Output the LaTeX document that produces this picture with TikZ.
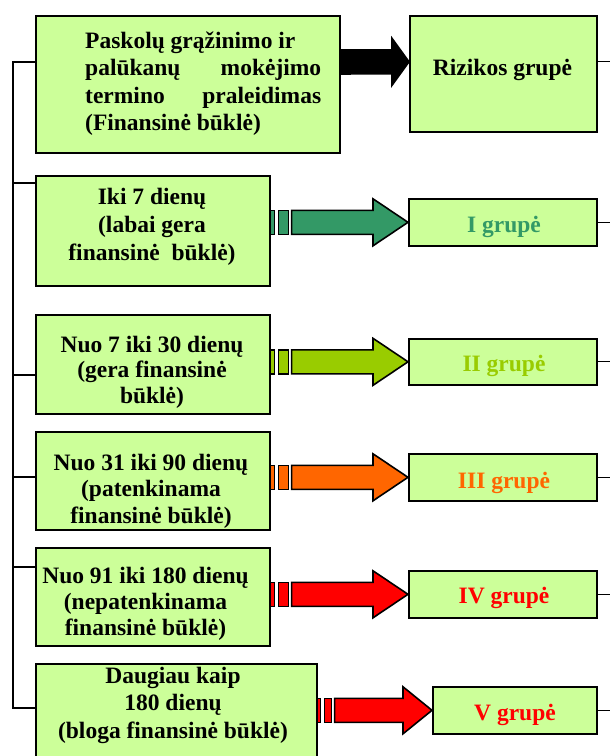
\documentclass[tikz,border=0pt]{standalone}
\usepackage{fontspec}
\setmainfont{Liberation Serif}
\usetikzlibrary{calc}
\definecolor{boxgreen}{HTML}{CCFF99}
\definecolor{gI}{HTML}{339966}
\definecolor{gII}{HTML}{99CC00}
\definecolor{gIII}{HTML}{FF6600}
\definecolor{gIV}{HTML}{FF0000}
% #1 from node, #2 to node, #3 colour, #4 vertical offset, #5 stripe1, #6 gap1, #7 stripe2, #8 gap2, #9 head length
\newcommand\fatarrow[9]{%
  \coordinate (fa0) at ($(#1.east |- #2.west)+(0,#4)$);
  \coordinate (fat) at ($(#2.west)+(0,#4)$);
  \filldraw[arrline, fill=#3] ($(fa0)+(0,-12)$) rectangle ($(fa0)+(#5,12)$);
  \filldraw[arrline, fill=#3] ($(fa0)+(#5+#6,-12)$) rectangle ($(fa0)+(#5+#6+#7,12)$);
  \filldraw[arrline, fill=#3] ($(fa0)+(#5+#6+#7+#8,-12)$) -- ($(fat)+(-#9,-12)$)
     -- ($(fat)+(-#9,-23.5)$) -- (fat) -- ($(fat)+(-#9,23.5)$)
     -- ($(fat)+(-#9,12)$) -- ($(fa0)+(#5+#6+#7+#8,12)$) -- cycle;
  \draw[conn] (fat -| #2.east) -- ++(20,0);
}
\newcommand\boxlines[2]{\fontsize{23.5}{#1}\selectfont\begin{tabular}[t]{@{}c@{}}#2\end{tabular}}
\begin{document}
\begin{tikzpicture}[x=1pt,y=-1pt,
  box/.style={draw=black, line width=1.6pt, fill=boxgreen, anchor=north west, inner sep=0pt},
  lt/.style={inner sep=0pt, anchor=base, font=\bfseries},
  gl/.style={inner sep=0pt, anchor=base, font=\bfseries\fontsize{23.5}{27.5}\selectfont},
  arrline/.style={draw=black, line width=1.6pt, line join=miter},
  conn/.style={draw=black, line width=1.2pt}]
\useasboundingbox (0,0) rectangle (610,756);
\clip (0,0) rectangle (610,756);
\fill[white] (0,0) rectangle (610,756);

% left boxes
\node[box, minimum width=304pt, minimum height=137pt] (b1) at (35,15) {};
\node[box, minimum width=234pt, minimum height=110pt] (b2) at (35,175) {};
\node[box, minimum width=234pt, minimum height=99pt] (b3) at (35,314) {};
\node[box, minimum width=234pt, minimum height=98pt] (b4) at (35,431) {};
\node[box, minimum width=234pt, minimum height=98pt] (b5) at (35,547) {};
\node[box, minimum width=281pt, minimum height=110pt] (b6) at (35,663) {};

% right boxes
\node[box, minimum width=187pt, minimum height=116pt] (r0) at (409,15) {};
\node[box, minimum width=188pt, minimum height=47pt] (g1) at (408,198) {};
\node[box, minimum width=188pt, minimum height=46pt] (g2) at (408,338) {};
\node[box, minimum width=188pt, minimum height=47pt] (g3) at (408,453) {};
\node[box, minimum width=188pt, minimum height=47pt] (g4) at (408,570) {};
\node[box, minimum width=164pt, minimum height=47pt] (g5) at (432,686) {};

% texts of left boxes
\node[lt, anchor=base west] (t1) at (85,48) {\fontsize{23.5}{27.5}\selectfont\begin{tabular}[t]{@{}l@{}}Paskolų grąžinimo ir\\ \makebox[236pt][s]{palūkanų mokėjimo}\\ \makebox[236pt][s]{termino praleidimas}\\ (Finansinė būklė)\end{tabular}};
\node[lt] (t2) at (152,204) {\boxlines{28}{Iki 7 dienų\\ (labai gera\\ finansinė~ būklė)}};
\node[lt] (t3) at (152,352) {\boxlines{25.5}{Nuo 7 iki 30 dienų\\ (gera finansinė\\ būklė)}};
\node[lt] (t4) at (151,470) {\boxlines{26.5}{Nuo 31 iki 90 dienų\\ (patenkinama\\ finansinė būklė)}};
\node[lt] (t5) at (145.5,583) {\boxlines{26}{Nuo 91 iki 180 dienų\\ (nepatenkinama\\ finansinė būklė)}};
\node[lt] (t6) at (173,683) {\boxlines{27.5}{Daugiau kaip\\ 180 dienų\\ (bloga finansinė būklė)}};

% texts of right boxes
\node[gl] (l0) at (502.5,75) {Rizikos grupė};
\node[gl, text=gI] (l1) at (504,232) {I grupė};
\node[gl, text=gII] (l2) at (504,371) {II grupė};
\node[gl, text=gIII] (l3) at (504,488) {III grupė};
\node[gl, text=gIV] (l4) at (504,603) {IV grupė};
\node[gl, text=gIV] (l5) at (515,720) {V grupė};

% fat arrows
\fatarrow{b1}{r0}{black}{-12}{3}{1}{6}{1}{17}
\fatarrow{b2}{g1}{gI}{0}{4}{4}{10}{3}{35}
\fatarrow{b3}{g2}{gII}{0}{4}{4}{10}{3}{35}
\fatarrow{b4}{g3}{gIII}{0}{4}{4}{10}{3}{35}
\fatarrow{b5}{g4}{gIV}{0}{4}{4}{10}{3}{35}
\fatarrow{b6}{g5}{gIV}{0}{3}{4}{7}{3}{29}

% left bracket line
\coordinate (v1) at (13,62);
\coordinate (v2) at (13,183);
\coordinate (v3) at (13,375);
\coordinate (v4) at (13,477);
\coordinate (v5) at (13,567);
\coordinate (v6) at (13,708);
\draw[conn] (v1 -| b1.west) -- (v1) -- (v6) -- (v6 -| b6.west);
\draw[conn] (v2) -- (v2 -| b2.west);
\draw[conn] (v3) -- (v3 -| b3.west);
\draw[conn] (v4) -- (v4 -| b4.west);
\draw[conn] (v5) -- (v5 -| b5.west);
\end{tikzpicture}
\end{document}
